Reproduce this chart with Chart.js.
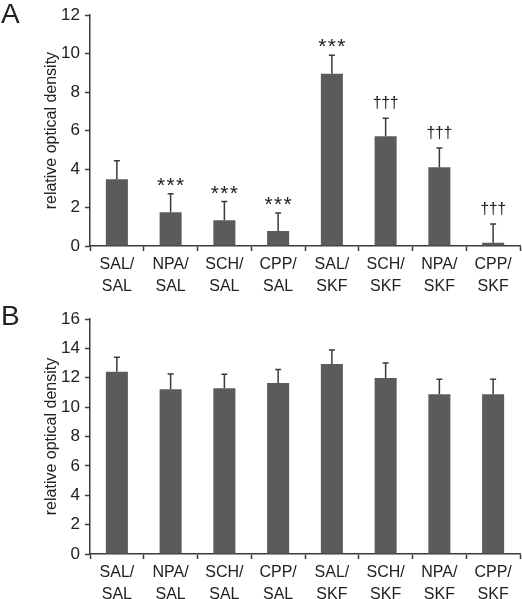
<!DOCTYPE html>
<html lang="en">
<head>
<meta charset="UTF-8">
<title>Relative optical density</title>
<style>
    body {
        margin: 0;
        background: #fff;
        font-family: Arial, "Liberation Sans", sans-serif;
    }
    .panel {
        position: relative;
        width: 522px;
    }
    .panel-label {
        position: absolute;
        left: 1px;
        font-size: 28px;
        line-height: 1;
        color: #222;
    }
    canvas { display: block; }
</style>
</head>
<body>
<div class="panel" style="height:300px">
    <span class="panel-label" style="top:0px">A</span>
    <canvas id="chartA" width="522" height="300"></canvas>
</div>
<div class="panel" style="height:299px">
    <span class="panel-label" style="top:2px">B</span>
    <canvas id="chartB" width="522" height="299"></canvas>
</div>

<script src="https://cdn.jsdelivr.net/npm/chart.js"></script>
<script>
    // Data
    const categories = [
        ['SAL/', 'SAL'], ['NPA/', 'SAL'], ['SCH/', 'SAL'], ['CPP/', 'SAL'],
        ['SAL/', 'SKF'], ['SCH/', 'SKF'], ['NPA/', 'SKF'], ['CPP/', 'SKF']
    ];
    const valuesA = [3.47, 1.76, 1.34, 0.78, 8.95, 5.71, 4.10, 0.17];
    const errorsA = [0.96, 0.96, 0.97, 0.93, 0.97, 0.93, 0.99, 0.98];
    const marksA = ['', '***', '***', '***', '***', '†††', '†††', '†††'];
    const valuesB = [12.41, 11.21, 11.28, 11.64, 12.93, 11.98, 10.87, 10.87];
    const errorsB = [0.98, 1.04, 0.95, 0.93, 0.96, 1.02, 1.02, 1.02];
    const marksB = ['', '', '', '', '', '', '', ''];
    const maxA = 12, maxB = 16, tickStep = 2;
    const axisTitle = 'relative optical density';

    const barColor = '#5b5b5b';
    const axisColor = '#3a3a3a';
    const textColor = '#222';

    // Upper error bars plus significance marks
    const errorBarPlugin = {
        id: 'errorBars',
        afterDatasetsDraw(chart, args, opts) {
            const ctx = chart.ctx;
            const yScale = chart.scales.y;
            const meta = chart.getDatasetMeta(0);
            ctx.save();
            ctx.strokeStyle = axisColor;
            ctx.lineWidth = 1.5;
            meta.data.forEach((bar, i) => {
                const v = chart.data.datasets[0].data[i];
                const top = yScale.getPixelForValue(v + opts.errors[i]);
                ctx.beginPath();
                ctx.moveTo(bar.x, bar.y);
                ctx.lineTo(bar.x, top);
                ctx.moveTo(bar.x - 3, top);
                ctx.lineTo(bar.x + 3, top);
                ctx.stroke();

                const mark = opts.marks[i];
                if (mark) {
                    const isStar = mark[0] === '*';
                    ctx.fillStyle = textColor;
                    ctx.font = isStar ? '21px Arial, "Liberation Sans"' : '16px Arial, "Liberation Sans"';
                    ctx.textAlign = 'center';
                    ctx.textBaseline = 'alphabetic';
                    const y = isStar ? top - 2 : top - 10;
                    const gap = isStar ? 9.5 : 8.5;
                    for (let k = 0; k < mark.length; k++) {
                        ctx.fillText(mark[k], bar.x + (k - 1) * gap, y);
                    }
                }
            });
            ctx.restore();
        }
    };

    function makeChart(id, values, errors, marks, max, topPad, xHeight) {
        return new Chart(document.getElementById(id), {
            type: 'bar',
            data: {
                labels: categories,
                datasets: [{
                    data: values,
                    backgroundColor: barColor,
                    borderWidth: 0,
                    categoryPercentage: 1,
                    barPercentage: 0.41
                }]
            },
            options: {
                responsive: false,
                animation: false,
                events: [],
                layout: { padding: { top: topPad, right: 2, left: 0, bottom: 0 } },
                plugins: {
                    legend: { display: false },
                    tooltip: { enabled: false },
                    errorBars: { errors: errors, marks: marks }
                },
                scales: {
                    x: {
                        afterFit(scale) { scale.height = xHeight; },
                        grid: {
                            drawOnChartArea: false,
                            tickLength: 5,
                            tickColor: axisColor,
                            tickWidth: 1.5,
                            offset: true
                        },
                        border: { color: axisColor, width: 1.5 },
                        ticks: {
                            color: textColor,
                            padding: 2,
                            maxRotation: 0,
                            font: { family: 'Arial, "Liberation Sans"', size: 16, lineHeight: 1.4 }
                        }
                    },
                    y: {
                        min: 0,
                        max: max,
                        afterFit(scale) { scale.width = 90; },
                        grid: {
                            drawOnChartArea: false,
                            tickLength: 5,
                            tickColor: axisColor,
                            tickWidth: 1.5
                        },
                        border: { color: axisColor, width: 1.5 },
                        ticks: {
                            stepSize: tickStep,
                            color: textColor,
                            padding: 5,
                            font: { family: 'Arial, "Liberation Sans"', size: 17 }
                        },
                        title: {
                            display: true,
                            text: axisTitle,
                            color: textColor,
                            padding: { top: 42, bottom: 0 },
                            font: { family: 'Arial, "Liberation Sans"', size: 16 }
                        }
                    }
                }
            },
            plugins: [errorBarPlugin]
        });
    }

    makeChart('chartA', valuesA, errorsA, marksA, maxA, 14, 54);
    makeChart('chartB', valuesB, errorsB, marksB, maxB, 19, 45);
</script>
</body>
</html>
